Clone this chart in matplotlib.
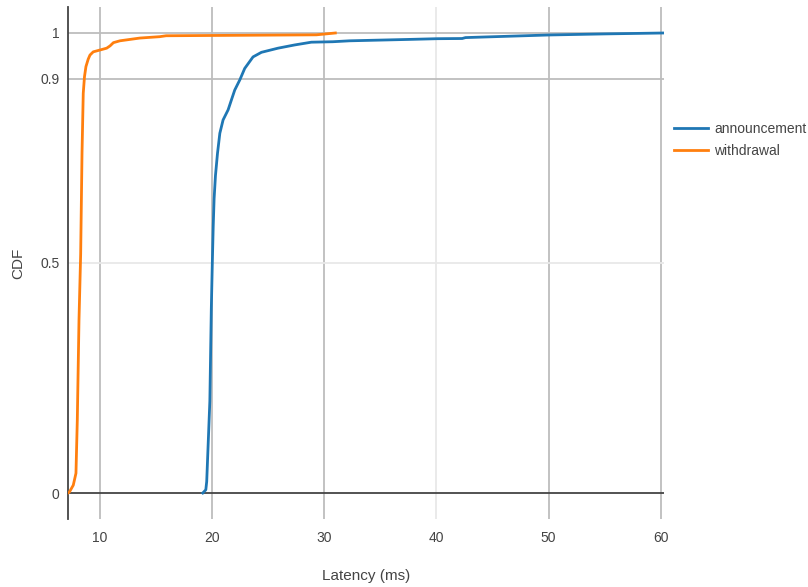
import matplotlib.pyplot as plt

plt.rcParams['font.family'] = ['Liberation Sans', 'DejaVu Sans']

# announcement latency CDF (ms, fraction)
ann_x = [19.17, 19.44, 19.52, 19.8, 19.93, 20.02, 20.1, 20.18, 20.3, 20.48, 20.69, 20.98,
         21.43, 21.73, 22.02, 22.47, 22.91, 23.65, 24.4, 25.88, 27.36, 28.85, 30.77,
         32.26, 37.5, 40.1, 42.3, 42.6, 50.07, 55.0, 60.3]
ann_y = [0.0, 0.007, 0.025, 0.2, 0.4, 0.5, 0.58, 0.64, 0.69, 0.738, 0.782, 0.811,
         0.833, 0.855, 0.876, 0.898, 0.923, 0.948, 0.958, 0.967, 0.974, 0.98, 0.981,
         0.983, 0.986, 0.9876, 0.988, 0.990, 0.9957, 0.998, 1.0]

# withdrawal latency CDF
wd_x = [7.15, 7.27, 7.62, 7.86, 7.98, 8.13, 8.28, 8.4, 8.51, 8.62, 8.75, 8.95, 9.11, 9.4,
        10.6, 10.9, 11.2, 11.78, 13.56, 15.34, 15.9, 29.3, 30.99]
wd_y = [0.0, 0.002, 0.017, 0.043, 0.159, 0.376, 0.52, 0.739, 0.869, 0.905, 0.927, 0.943,
        0.952, 0.959, 0.967, 0.972, 0.979, 0.983, 0.989, 0.992, 0.994, 0.996, 1.0]

x_ticks = [10, 20, 30, 40, 50, 60]
y_ticks = [0, 0.5, 0.9, 1]
y_labels = ['0', '0.5', '0.9', '1']

fig = plt.figure(figsize=(8.08, 5.87), dpi=100)
ax = fig.add_axes([68 / 808, 68 / 587, 596 / 808, 512 / 587])

dark = '#bdbdbd'
light = '#e8e8e8'
for xv in x_ticks:
    ax.axvline(xv, color=light if xv == 40 else dark, lw=1.3, zorder=0)
for yv in [0.5, 0.9, 1]:
    ax.axhline(yv, color=light if yv == 0.5 else dark, lw=1.3, zorder=0)
ax.axhline(0, color='#444444', lw=1.3, zorder=1)

ax.plot(ann_x, ann_y, color='#1f77b4', lw=2, label='announcement', zorder=3)
ax.plot(wd_x, wd_y, color='#ff7f0e', lw=2, label='withdrawal', zorder=3)

ax.set_xlim(7.15, 60.3)
ax.set_ylim(-0.0565, 1.0565)
ax.set_xticks(x_ticks)
ax.set_yticks(y_ticks)
ax.set_yticklabels(y_labels)
ax.tick_params(length=0, labelsize=10, colors='#444444', pad=6)
ax.tick_params(axis='x', pad=9)

for s in ['top', 'right', 'bottom']:
    ax.spines[s].set_visible(False)
ax.spines['left'].set_color('#444444')
ax.spines['left'].set_linewidth(1.3)

fig.text(366 / 808, 1 - 576 / 587, 'Latency (ms)', ha='center', va='center',
         fontsize=11, color='#444444')
fig.text(18 / 808, 1 - 263 / 587, 'CDF', ha='center', va='center', rotation=90,
         fontsize=11, color='#444444')

leg = ax.legend(loc='upper left', bbox_to_anchor=(1.0, 0.795), frameon=False,
                fontsize=10, handlelength=2.45, handletextpad=0.45, labelspacing=0.6,
                borderaxespad=0.3)
for t in leg.get_texts():
    t.set_color('#444444')

fig.savefig('out.png', dpi=100)
